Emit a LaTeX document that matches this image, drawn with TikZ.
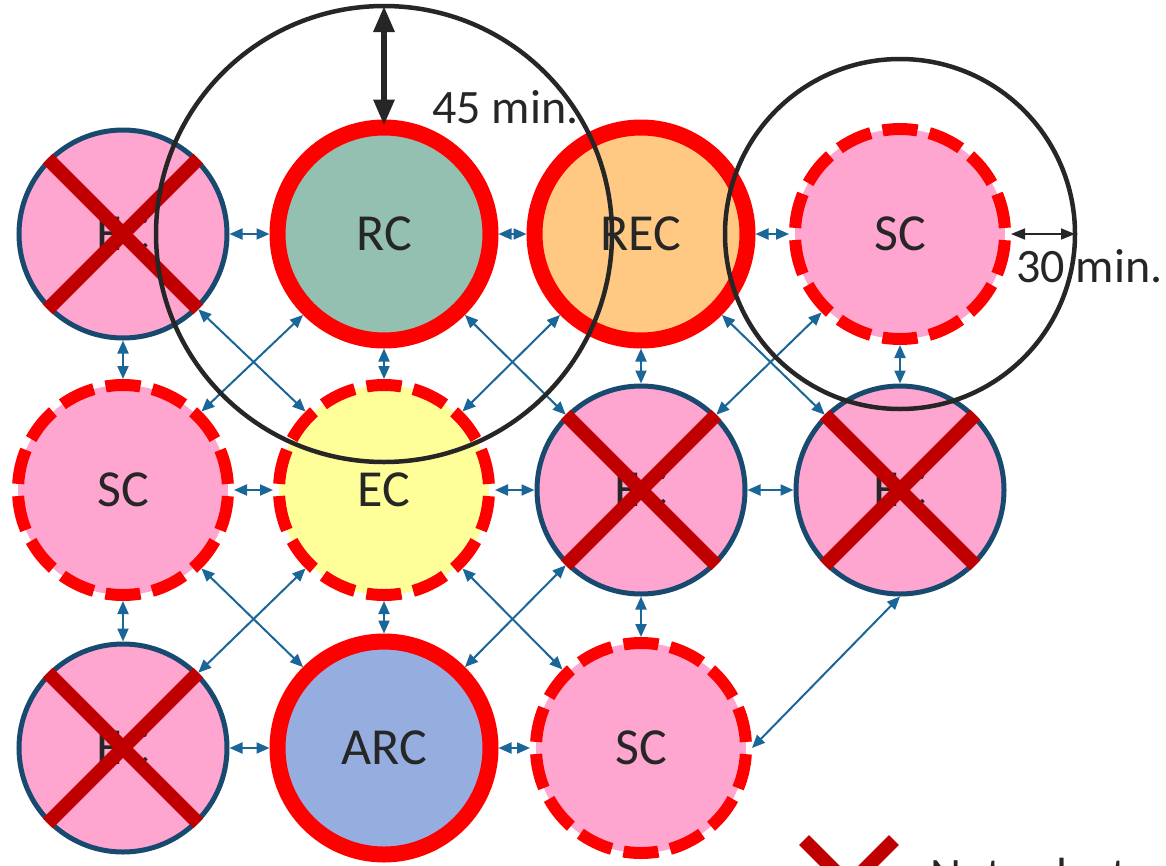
\documentclass[tikz,border=0pt]{standalone}
\usepackage{fontspec}
\setmainfont{Carlito}
\usetikzlibrary{arrows.meta}

\definecolor{pinkfill}{HTML}{FFA6D0}
\definecolor{tealfill}{HTML}{93C0B1}
\definecolor{orangefill}{HTML}{FFC983}
\definecolor{yellowfill}{HTML}{FFFF99}
\definecolor{bluefill}{HTML}{95AEDF}
\definecolor{navyline}{HTML}{174A6E}
\definecolor{linkblue}{HTML}{1B6699}
\definecolor{crossred}{HTML}{C00000}
\definecolor{ringred}{HTML}{FF0000}
\definecolor{txt}{HTML}{262626}
\definecolor{ringblack}{HTML}{262626}

\begin{document}
\begin{tikzpicture}[x=1pt,y=-1pt,
  base/.style={circle, inner sep=0pt, text=txt, font=\fontsize{52}{52}\selectfont},
  offsite/.style={base, minimum size=208pt, fill=pinkfill, draw=navyline, line width=5pt},
  strongsite/.style={base, minimum size=213pt, draw=ringred, line width=16pt},
  weaksite/.style={base, minimum size=210pt, draw=ringred, line width=12pt,
                   dash pattern=on 35pt off 12.12pt, dash phase=41.06pt},
  crossbar/.style={draw=crossred, line width=14pt, line cap=butt},
  link/.style={draw=linkblue, line width=2pt,
               {Triangle[length=13pt,width=11pt]}-{Triangle[length=13pt,width=11pt]}},
  reach/.style={draw=ringblack, line width=4.5pt},
  bigdim/.style={draw=ringblack, line width=6pt,
               {Triangle[length=26pt,width=20pt]}-{Triangle[length=26pt,width=20pt]}},
  smalldim/.style={draw=ringblack, line width=1.6pt,
               {Triangle[length=14pt,width=11pt]}-{Triangle[length=14pt,width=11pt]}},
  dimlabel/.style={anchor=base west, inner sep=0pt, text=txt, font=\fontsize{48}{48}\selectfont}
]
\clip (0,0) rectangle (1166,865);
\fill[white] (0,0) rectangle (1166,865);

% sites, row by row
\node[offsite] (a1) at (123,234) {EC};
\node[strongsite, fill=tealfill] (a2) at (384,234) {RC};
\node[strongsite, fill=orangefill] (a3) at (641,234) {REC};
\node[weaksite, fill=pinkfill] (a4) at (900,234) {SC};

\node[weaksite, fill=pinkfill] (b1) at (123,490) {SC};
\node[weaksite, fill=yellowfill] (b2) at (384,490) {EC};
\node[offsite] (b3) at (641,490) {EC};
\node[offsite] (b4) at (900,490) {EC};

\node[offsite] (c1) at (123,748) {EC};
\node[strongsite, fill=bluefill] (c2) at (384,748) {ARC};
\node[weaksite, fill=pinkfill] (c3) at (641,748) {SC};

% crossed-out sites
\foreach \n in {a1,b3,b4,c1} {
  \draw[crossbar] (\n.north west) -- (\n.south east);
  \draw[crossbar] (\n.north east) -- (\n.south west);
}

% horizontal links
\draw[link] (a1) -- (a2);
\draw[link] (a2) -- (a3);
\draw[link] (a3) -- (a4);
\draw[link] (b1) -- (b2);
\draw[link] (b2) -- (b3);
\draw[link] (b3) -- (b4);
\draw[link] (c1) -- (c2);
\draw[link] (c2) -- (c3);

% vertical links
\draw[link] (a1) -- (b1);
\draw[link] (a2) -- (b2);
\draw[link] (a3) -- (b3);
\draw[link] (a4) -- (b4);
\draw[link] (b1) -- (c1);
\draw[link] (b2) -- (c2);
\draw[link] (b3) -- (c3);

% diagonal links
\draw[link] (a1.south east) -- (b2.north west);
\draw[link] (a2.south west) -- (b1.north east);
\draw[link] (a2.south east) -- (b3.north west);
\draw[link] (a3.south west) -- (b2.north east);
\draw[link] (a3.south east) -- (b4.north west);
\draw[link] (a4.south west) -- (b3.north east);
\draw[link] (b1.south east) -- (c2.north west);
\draw[link] (b2.south west) -- (c1.north east);
\draw[link] (b2.south east) -- (c3.north west);
\draw[link] (b3.south west) -- (c2.north east);
\draw[link] (b4.south) -- (c3.east);

% travel-time reach circles
\draw[reach] (a2.center) circle[radius=228pt];
\draw[reach] (a4.center) circle[radius=175pt];

% reach dimensions
\coordinate (top45) at (384,6);
\draw[bigdim] (top45) -- ([yshift=-6pt]a2.north);
\node[dimlabel] (lab45) at (432,123) {45 min.};

\coordinate (edge30) at (1075,234);
\draw[smalldim] (a4.east) -- (edge30);
\node[dimlabel] (lab30) at (1016,282) {30 min.};

% legend, running off the lower edge
\draw[crossbar] (804,840) -- (894,930);
\draw[crossbar] (894,840) -- (804,930);
\node[dimlabel] (legtxt) at (930,891) {Not selected};
\end{tikzpicture}
\end{document}
